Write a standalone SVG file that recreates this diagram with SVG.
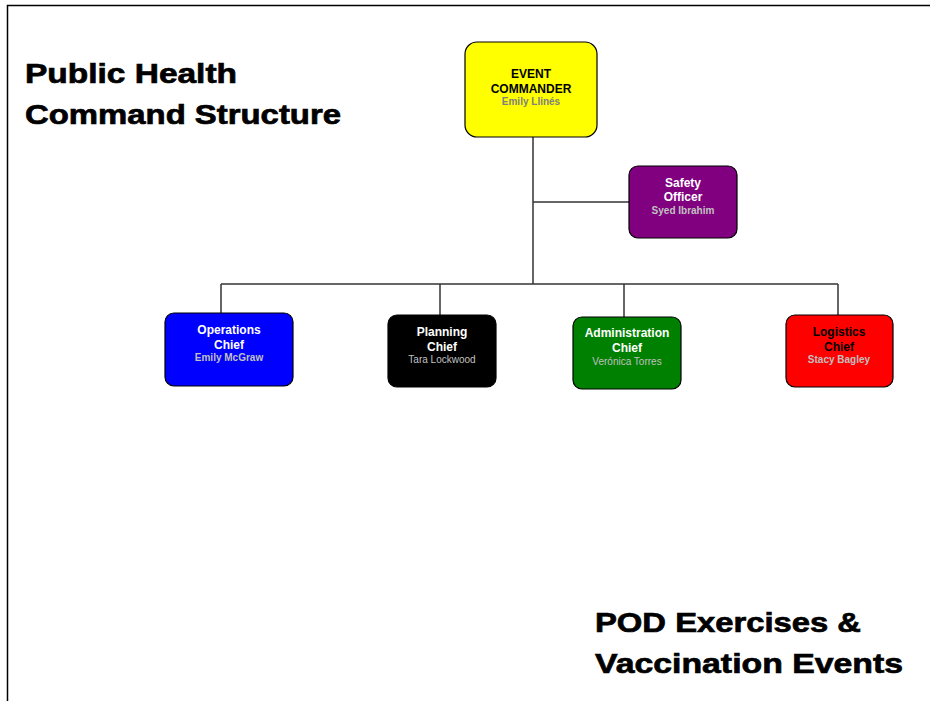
<svg xmlns="http://www.w3.org/2000/svg" width="930" height="701" viewBox="0 0 930 701">
<style>
.box{stroke:#000;stroke-width:1.2}
.t{font-family:"Liberation Sans",Arial,sans-serif;font-weight:bold;font-size:12px;text-anchor:middle}
.n{font-family:"Liberation Sans",Arial,sans-serif;font-weight:bold;font-size:10px;text-anchor:middle;fill:#c0c0c0}
.big{font-family:"Liberation Sans",Arial,sans-serif;font-weight:bold;font-size:28px;fill:#000;stroke:#000;stroke-width:0.7}
.c{stroke:#333;stroke-width:1.5;fill:none}
</style>
<rect width="930" height="701" fill="#fff"/>
<path d="M7.5 701 V5.5 H930" stroke="#000" stroke-width="1.5" fill="none"/>
<text class="big" x="25" y="83" textLength="212" lengthAdjust="spacingAndGlyphs">Public Health</text>
<text class="big" x="25" y="124" textLength="316" lengthAdjust="spacingAndGlyphs">Command Structure</text>
<text class="big" x="595" y="632" textLength="266" lengthAdjust="spacingAndGlyphs">POD Exercises &amp;</text>
<text class="big" x="595" y="673" textLength="308" lengthAdjust="spacingAndGlyphs">Vaccination Events</text>
<g id="connectors">
<path class="c" d="M533 137 V284"/>
<path class="c" d="M533 202 H630"/>
<path class="c" d="M221 284 H838"/>
<path class="c" d="M221 284 V314"/>
<path class="c" d="M440 284 V316"/>
<path class="c" d="M624 284 V318"/>
<path class="c" d="M838 284 V316"/>
</g>
<g id="commander">
<rect class="box" x="465" y="42" width="132" height="95" rx="12" fill="#ffff00"/>
<text class="t" x="531" y="78">EVENT</text>
<text class="t" x="531" y="93">COMMANDER</text>
<text class="n" x="531" y="105" style="fill:#808080">Emily Llinés</text>
</g>
<g id="safety">
<rect class="box" x="629" y="166" width="108" height="72" rx="9" fill="#800080"/>
<text class="t" x="683" y="187" fill="#fff">Safety</text>
<text class="t" x="683" y="201" fill="#fff">Officer</text>
<text class="n" x="683" y="214">Syed Ibrahim</text>
</g>
<g id="operations">
<rect class="box" x="165" y="313" width="128" height="73" rx="9" fill="#0000ff"/>
<text class="t" x="229" y="334" fill="#fff">Operations</text>
<text class="t" x="229" y="349" fill="#fff">Chief</text>
<text class="n" x="229" y="361">Emily McGraw</text>
</g>
<g id="planning">
<rect class="box" x="388" y="315" width="108" height="72" rx="9" fill="#000"/>
<text class="t" x="442" y="336" fill="#fff">Planning</text>
<text class="t" x="442" y="351" fill="#fff">Chief</text>
<text class="n" x="442" y="363" style="font-weight:normal">Tara Lockwood</text>
</g>
<g id="administration">
<rect class="box" x="573" y="317" width="108" height="72" rx="9" fill="#008000"/>
<text class="t" x="627" y="337" fill="#fff">Administration</text>
<text class="t" x="627" y="352" fill="#fff">Chief</text>
<text class="n" x="627" y="365" style="font-weight:normal">Verónica Torres</text>
</g>
<g id="logistics">
<rect class="box" x="786" y="315" width="107" height="72" rx="9" fill="#ff0000"/>
<text class="t" x="839" y="336" fill="#000">Logistics</text>
<text class="t" x="839" y="351" fill="#000">Chief</text>
<text class="n" x="839" y="363">Stacy Bagley</text>
</g>
</svg>
